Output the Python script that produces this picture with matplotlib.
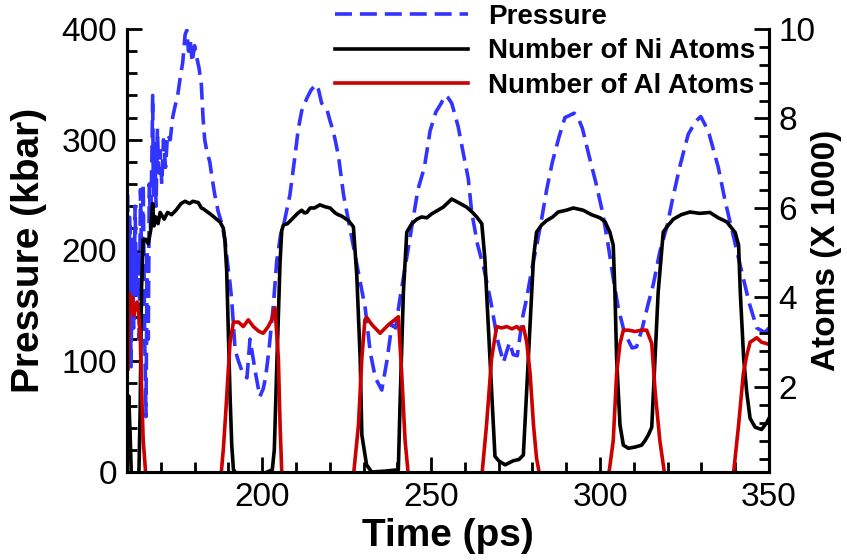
import matplotlib
matplotlib.use("Agg")
import matplotlib.pyplot as plt
from matplotlib.ticker import MultipleLocator

plt.rcParams['font.family'] = ['Liberation Sans', 'DejaVu Sans']

# ---------------- data ----------------
t_pressure = [160.2, 160.5, 160.8, 161.2, 161.6, 162.0, 162.4, 162.8, 163.2, 163.6,
              164.0, 164.4, 164.8, 165.2, 165.6, 166.0, 166.3, 166.6, 167.0, 167.4,
              167.6, 167.8, 168.2, 168.6, 169.0, 169.4, 169.8, 170.3, 170.8, 171.4,
              172.0, 172.8, 173.5, 174.2, 175.0, 175.7, 176.5, 177.2, 177.7, 178.2,
              178.7, 179.3, 180.0, 180.6, 181.3, 182.0, 182.5, 183.0, 183.6, 184.5,
              185.2, 186.0, 187.0, 188.0, 189.0, 189.5, 190.5, 191.0, 192.0, 193.0,
              194.4, 195.5, 196.4, 197.2, 198.0, 199.3, 200.3, 201.0, 202.0, 203.3,
              204.3, 205.5, 206.5, 208.2, 209.7, 210.7, 211.7, 213.3, 214.5, 215.9,
              216.7, 217.6, 219.2, 220.0, 221.0, 221.6, 222.6, 224.1, 226.6, 228.5,
              230.5, 232.0, 233.5, 235.4, 236.9, 238.4, 239.5, 240.8, 242.3, 244.1,
              246.1, 248.0, 249.7, 251.4, 253.0, 254.1, 255.0, 256.1, 258.0, 259.7,
              261.0, 262.0, 263.7, 265.6, 267.6, 269.6, 271.4, 272.3, 273.2, 274.3,
              275.5, 277.1, 278.3, 279.8, 281.4, 282.8, 284.2, 285.9, 287.9, 289.6,
              291.0, 292.3, 293.5, 294.8, 296.7, 298.7, 300.7, 302.4, 303.9, 305.4,
              307.2, 309.5, 310.8, 312.5, 314.1, 315.8, 317.7, 319.9, 321.5, 323.7,
              326.1, 328.0, 328.8, 329.8, 331.0, 332.3, 335.0, 337.0, 339.3, 341.6,
              344.2, 346.4, 348.8, 350.0]
pressure = [250, 150, 230, 95, 210, 130, 240, 160, 200, 120,
            255, 175, 260, 130, 50, 200, 120, 260, 220, 290,
            340, 250, 300, 240, 310, 270, 290, 260, 300, 275,
            305, 300, 320, 330, 340, 355, 370, 395, 399, 380,
            390, 370, 385, 375, 365, 350, 320, 300, 290, 280,
            265, 250, 235, 225, 210, 195, 170, 155, 110, 100,
            88, 85, 120, 105, 90, 68, 75, 85, 110, 150,
            190, 215, 225, 250, 285, 310, 326, 338, 345, 350,
            345, 333, 327, 318, 308, 300, 285, 250, 210, 180,
            148, 108, 85, 74, 100, 133, 130, 157, 185, 218,
            255, 275, 308, 325, 333, 340, 338, 333, 312, 285,
            265, 235, 206, 184, 155, 120, 99, 108, 117, 106,
            105, 140, 157, 183, 207, 230, 255, 280, 303, 320,
            322, 324, 320, 310, 286, 262, 235, 205, 175, 148,
            126, 112, 113, 130, 150, 170, 199, 223, 247, 277,
            305, 315, 318, 321, 314, 305, 275, 245, 215, 185,
            152, 130, 126, 130]

t_ni = [160.0, 160.5, 160.9, 161.3, 163.5, 163.9, 164.3, 164.8, 165.5, 166.3,
        167.0, 167.6, 168.0, 168.5, 169.2, 169.8, 171.0, 172.0, 173.2, 174.5,
        176.0, 177.2, 178.5, 179.5, 181.1, 182.0, 182.6, 184.0, 185.1, 186.5,
        187.5, 188.5, 189.0, 189.5, 190.0, 190.5, 191.0, 191.5, 192.5, 200.0,
        203.0, 203.6, 204.3, 205.3, 205.8, 206.3, 207.5, 209.2, 210.5, 211.7,
        212.5, 213.2, 214.2, 215.5, 217.1, 218.5, 220.1, 221.6, 222.5, 223.5,
        225.5, 227.0, 228.0, 229.0, 229.5, 230.9, 232.4, 236.4, 240.3, 240.8,
        241.8, 242.8, 244.3, 245.8, 247.2, 248.7, 250.2, 252.0, 253.6, 256.1,
        258.6, 260.5, 262.0, 263.5, 265.0, 265.9, 266.9, 267.9, 268.9, 270.0,
        271.9, 274.3, 276.0, 277.3, 278.3, 279.3, 280.3, 281.2, 282.7, 284.2,
        286.0, 287.6, 290.0, 292.1, 295.0, 297.5, 300.0, 301.5, 302.9, 303.9,
        304.4, 304.9, 305.9, 306.9, 308.4, 310.5, 312.3, 313.3, 314.3, 315.3,
        315.8, 317.2, 318.7, 320.0, 321.7, 324.0, 326.6, 329.5, 332.5, 335.0,
        337.5, 340.0, 341.0, 341.5, 342.5, 343.4, 344.4, 345.9, 347.8, 349.3,
        350.0]
ni_atoms = [0.1, 1.8, 1.0, 0.0, 0.0, 1.5, 4.2, 5.3, 5.3, 5.2,
            5.5, 6.1, 5.6, 5.8, 5.65, 5.9, 5.75, 5.9, 5.85, 5.95,
            6.1, 6.15, 6.1, 6.15, 6.12, 6.0, 5.98, 5.9, 5.84, 5.75,
            5.69, 5.55, 5.25, 4.6, 3.2, 1.8, 0.7, 0.15, 0.05, 0.05,
            0.15, 0.6, 2.4, 4.8, 5.5, 5.62, 5.65, 5.78, 5.88, 5.95,
            5.89, 5.9, 6.0, 6.0, 6.07, 6.03, 6.0, 5.89, 5.85, 5.82,
            5.72, 5.58, 4.5, 2.65, 0.93, 0.26, 0.1, 0.12, 0.15, 1.6,
            4.12, 5.46, 5.65, 5.75, 5.8, 5.78, 5.87, 5.95, 6.02, 6.2,
            6.1, 6.02, 5.92, 5.8, 5.65, 4.88, 3.4, 1.95, 0.45, 0.35,
            0.26, 0.35, 0.38, 0.48, 1.95, 3.4, 4.88, 5.46, 5.62, 5.72,
            5.8, 5.91, 5.95, 6.0, 5.95, 5.85, 5.78, 5.69, 5.46, 5.17,
            4.12, 2.64, 1.15, 0.7, 0.63, 0.66, 0.7, 0.8, 0.93, 1.1,
            1.9, 4.12, 5.46, 5.6, 5.75, 5.85, 5.91, 5.88, 5.9, 5.78,
            5.69, 5.45, 5.17, 4.12, 2.64, 1.89, 1.3, 1.1, 1.05, 1.2,
            1.3]

t_al = [160.3, 160.7, 161.2, 161.6, 162.0, 162.5, 163.0, 163.5, 163.9, 164.3,
        164.8, 165.5, 166.0, 187.8, 188.5, 189.2, 190.0, 190.5, 191.5, 193.0,
        194.4, 195.9, 197.4, 198.9, 200.3, 201.8, 202.8, 203.8, 204.8, 205.3,
        205.8, 206.3, 227.0, 228.5, 229.5, 230.4, 231.0, 232.4, 234.9, 237.5,
        239.2, 240.3, 241.3, 242.3, 243.3, 265.0, 266.4, 267.9, 269.4, 270.9,
        272.4, 273.9, 275.4, 276.4, 277.3, 278.3, 279.3, 280.3, 281.2, 282.2,
        302.5, 303.9, 304.9, 305.9, 306.9, 308.4, 310.4, 312.3, 313.8, 315.3,
        316.3, 317.7, 319.2, 339.4, 341.0, 342.4, 343.4, 344.4, 345.4, 346.4,
        347.8, 349.3, 350.0]
al_atoms = [2.4, 4.1, 3.7, 4.0, 3.6, 3.8, 3.9, 3.6, 3.2, 2.0,
            0.8, 0.1, 0.0, 0.0, 0.6, 1.4, 2.4, 3.0, 3.45, 3.45,
            3.35, 3.5, 3.35, 3.25, 3.2, 3.35, 3.5, 3.77, 2.64, 1.15,
            0.1, 0.0, 0.0, 1.15, 2.64, 3.5, 3.55, 3.4, 3.2, 3.4,
            3.5, 3.57, 2.3, 0.8, 0.0, 0.0, 1.15, 2.64, 3.35, 3.32,
            3.35, 3.3, 3.35, 3.27, 3.35, 3.0, 2.3, 1.15, 0.41, 0.0,
            0.0, 0.8, 2.3, 2.97, 3.27, 3.27, 3.24, 3.27, 3.27, 2.97,
            1.9, 0.8, 0.0, 0.0, 1.15, 2.3, 2.7, 3.0, 3.05, 3.1,
            3.0, 2.97, 2.95]

x_ticks = [200, 250, 300, 350]
p_ticks = [0, 100, 200, 300, 400]
a_ticks = [2, 4, 6, 8, 10]

# ---------------- figure ----------------
W, H = 847, 560
fig = plt.figure(figsize=(W / 100, H / 100), dpi=100)
L, R, B, T = 127, 769, 472, 29
ax = fig.add_axes([L / W, 1 - B / H, (R - L) / W, (B - T) / H])
ax2 = ax.twinx()

blue = '#3333FF'
red = '#CC0000'
lw = 2.6

lp, = ax.plot(t_pressure, pressure, color=blue, lw=lw,
              linestyle=(0, (4.7, 2.2)), label='Pressure')
ln, = ax2.plot(t_ni, ni_atoms, color='black', lw=lw, label='Number of Ni Atoms')
la, = ax2.plot(t_al, al_atoms, color=red, lw=lw, label='Number of Al Atoms')

ax.set_xlim(160, 350)
ax.set_ylim(0, 400)
ax2.set_ylim(0.1, 10)

ax.set_xticks(x_ticks)
ax.set_yticks(p_ticks)
ax2.set_yticks(a_ticks)
ax.xaxis.set_minor_locator(MultipleLocator(10))
ax.yaxis.set_minor_locator(MultipleLocator(20))
ax2.yaxis.set_minor_locator(MultipleLocator(0.4))

tick_fs = 24
for a in (ax, ax2):
    a.tick_params(which='major', direction='in', length=11, width=2, labelsize=tick_fs, pad=7)
    a.tick_params(which='minor', direction='in', length=7, width=2)
    a.spines['top'].set_visible(False)
    for s in a.spines.values():
        s.set_linewidth(2.2)
ax.tick_params(axis='y', which='both', right=False)
ax.tick_params(axis='x', which='both', top=False)

lab_font = dict(fontweight='bold', fontsize=28)
ax.set_xlabel('Time (ps)', **lab_font)
ax.set_ylabel('Pressure (kbar)', **lab_font)
ax2.set_ylabel('Atoms (X 1000)', fontweight='bold', fontsize=24, rotation=90)
ax.xaxis.set_label_coords(0.5, -0.104)
ax.yaxis.set_label_coords(-0.153, 0.5)
ax2.yaxis.set_label_coords(1.09, 0.5)
ax2.yaxis.label.set_va('center')
ax.yaxis.label.set_va('center')

fig.legend(handles=[lp, ln, la], loc='upper left',
           bbox_to_anchor=(335 / W, 1.0 - 4 / H), bbox_transform=fig.transFigure,
           frameon=False, borderpad=0, borderaxespad=0,
           handlelength=4.8, handletextpad=0.7, labelspacing=0.30,
           prop=dict(weight='bold', size=20))

fig.savefig('out.png', dpi=100)
